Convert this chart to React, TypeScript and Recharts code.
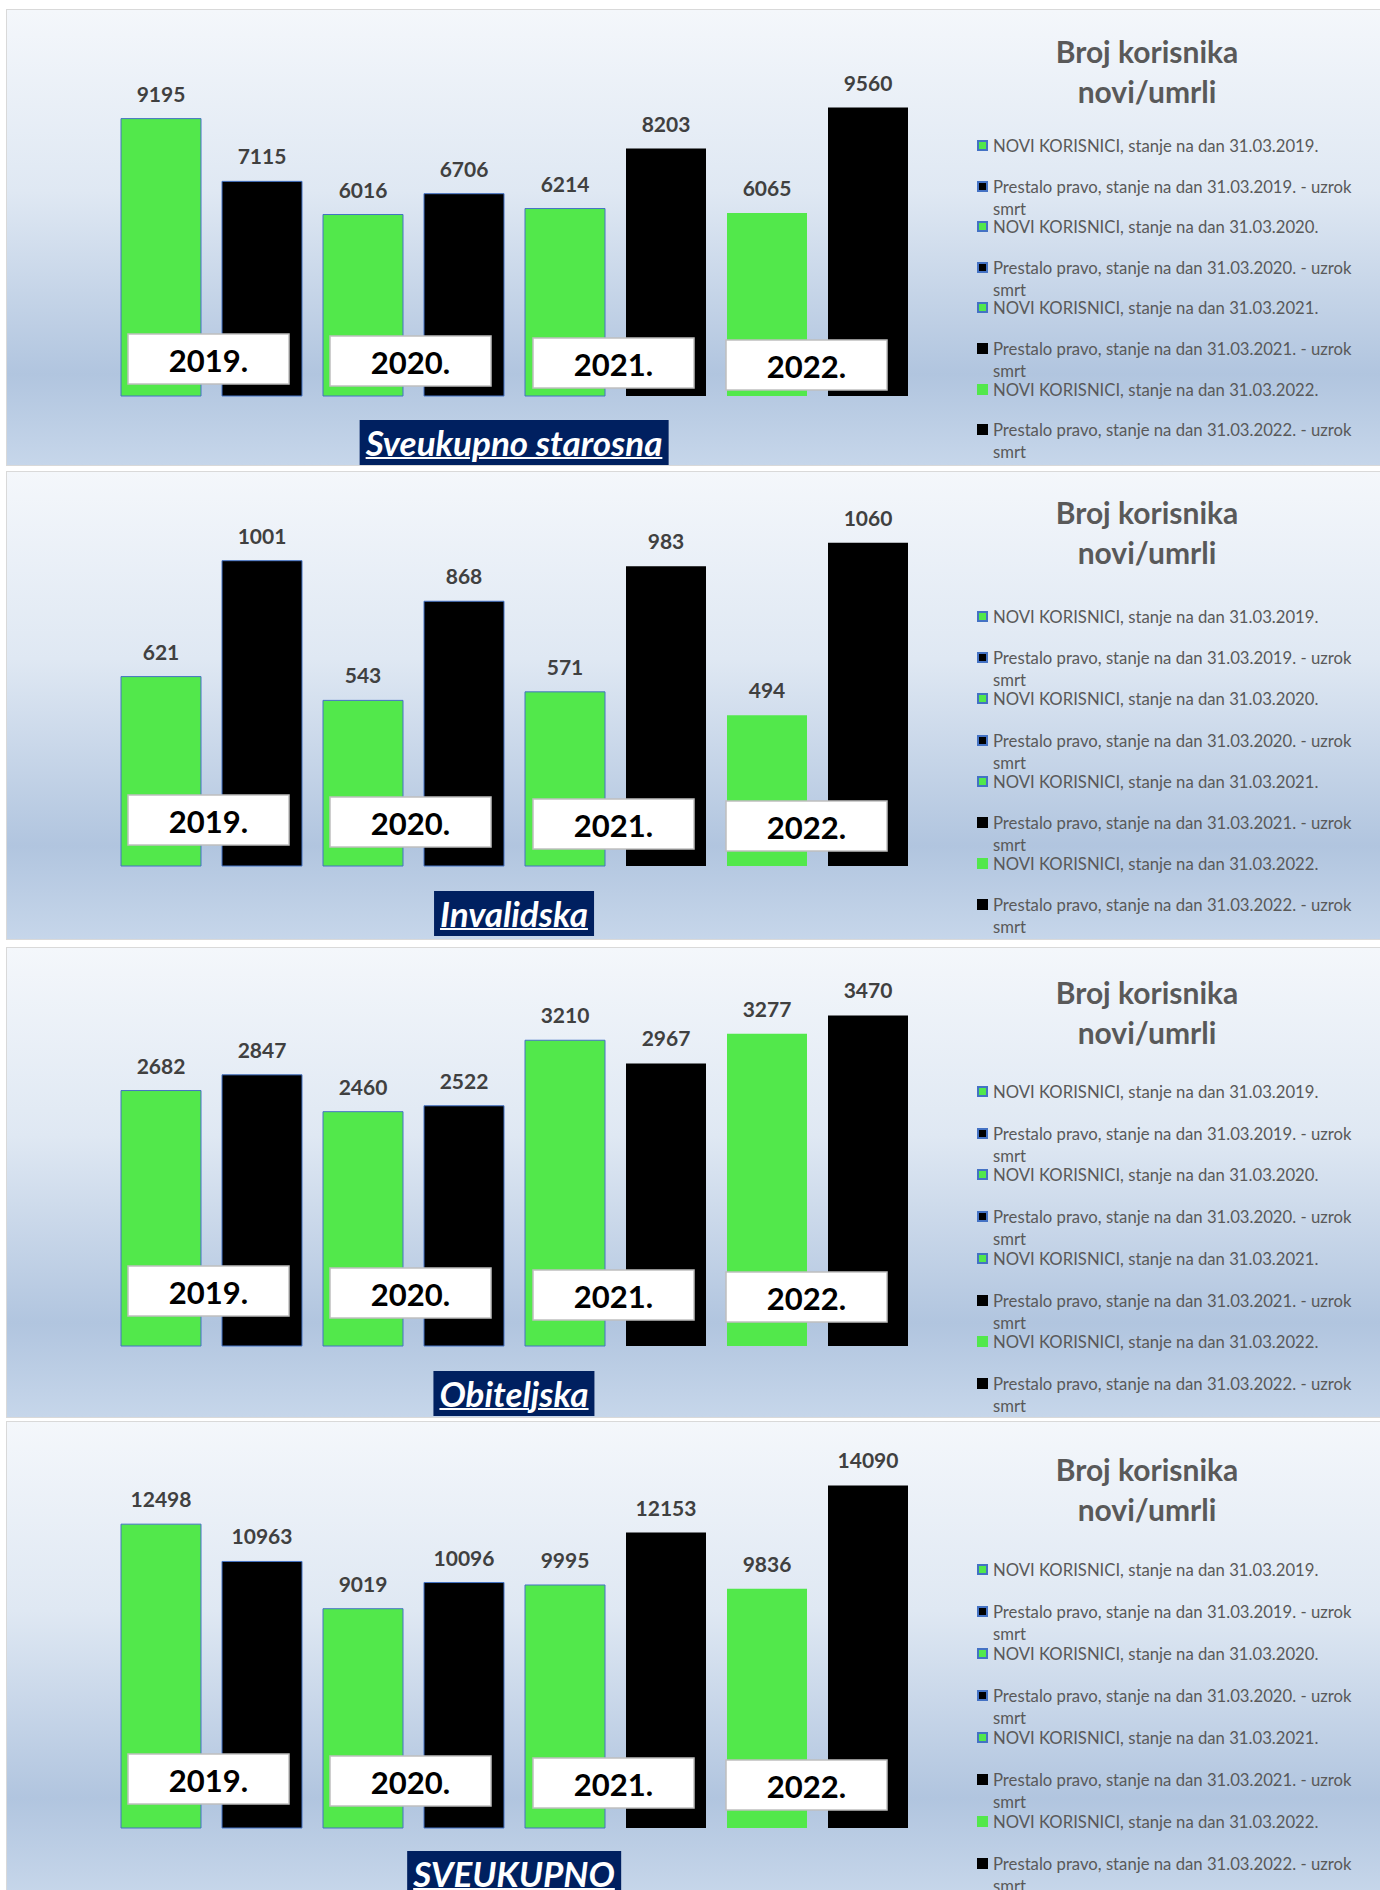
import React from 'react';
import { BarChart, Bar, XAxis, YAxis, LabelList } from 'recharts';

const seriesKeys = ['n2019', 'p2019', 'n2020', 'p2020', 'n2021', 'p2021', 'n2022', 'p2022'];
const seriesNames = [
  'NOVI KORISNICI, stanje na dan 31.03.2019.',
  'Prestalo pravo, stanje na dan 31.03.2019. - uzrok smrt',
  'NOVI KORISNICI, stanje na dan 31.03.2020.',
  'Prestalo pravo, stanje na dan 31.03.2020. - uzrok smrt',
  'NOVI KORISNICI, stanje na dan 31.03.2021.',
  'Prestalo pravo, stanje na dan 31.03.2021. - uzrok smrt',
  'NOVI KORISNICI, stanje na dan 31.03.2022.',
  'Prestalo pravo, stanje na dan 31.03.2022. - uzrok smrt',
];
const years = ['2019.', '2020.', '2021.', '2022.'];

const starosnaValues = [9195, 7115, 6016, 6706, 6214, 8203, 6065, 9560];
const invalidskaValues = [621, 1001, 543, 868, 571, 983, 494, 1060];
const obiteljskaValues = [2682, 2847, 2460, 2522, 3210, 2967, 3277, 3470];
const sveukupnoValues = [12498, 10963, 9019, 10096, 9995, 12153, 9836, 14090];

const panelTitles = ['Sveukupno starosna', 'Invalidska', 'Obiteljska', 'SVEUKUPNO'];
const panelValues = [starosnaValues, invalidskaValues, obiteljskaValues, sveukupnoValues];
const yMaxes = [12000, 1200, 4000, 16000];

const GREEN = '#52E84B';
const BLACK = '#000000';
const OUTLINE = '#4472C4';
const seriesFill = [GREEN, BLACK, GREEN, BLACK, GREEN, BLACK, GREEN, BLACK];
const seriesStroke = [OUTLINE, OUTLINE, OUTLINE, OUTLINE, OUTLINE, 'none', 'none', 'none'];

const FONT = "Lato, 'Open Sans', sans-serif";

// layout, page pixels
const layout = [
  { top: 9, height: 457, plotTop: 24, baseline: 386, titleTop: 410, legendTitle: 21, itemTop: 136, pitch: 40.6, boxRise: 62 },
  { top: 471, height: 469, plotTop: 28, baseline: 394, titleTop: 419, legendTitle: 20, itemTop: 145, pitch: 41.2, boxRise: 71 },
  { top: 947, height: 471, plotTop: 17, baseline: 398, titleTop: 423, legendTitle: 24, itemTop: 144, pitch: 41.7, boxRise: 80 },
  { top: 1421, height: 472, plotTop: 17, baseline: 406, titleTop: 429, legendTitle: 27, itemTop: 148, pitch: 42, boxRise: 74 },
];
const boxDx = [-94, -94, -93, -102];

const makeYearBox = (k: number, rise: number) => (props: any) => {
  const vb = props.viewBox ?? props;
  const base = vb.y + vb.height;
  const left = vb.x + boxDx[k];
  const top = base - rise + k * 2;
  return (
    <g>
      <rect x={left} y={top} width={161} height={50} fill="#FFFFFF" stroke="#BFBFBF" strokeWidth={1.5} />
      <text x={left + 80.5} y={top + 26} textAnchor="middle" dominantBaseline="central"
        fontSize={31} fontWeight={700} fontFamily={FONT} fill="#000000">
        {years[k]}
      </text>
    </g>
  );
};

const Panel = ({ idx }: { idx: number }) => {
  const L = layout[idx];
  const values = panelValues[idx];
  const row: any = { name: panelTitles[idx] };
  seriesKeys.forEach((k, i) => { row[k] = values[i]; });
  const data = [row];
  const h = L.height - 2;

  return (
    <div style={{
      position: 'absolute', left: 6, top: L.top, width: 1390, height: L.height,
      boxSizing: 'border-box', border: '1px solid #D9D9D9',
      background: 'linear-gradient(to bottom, #F4F7FB 0%, #DFE8F3 40%, #B1C5DF 80%, #C6D6EA 100%)',
    }}>
      <BarChart width={1373} height={h} data={data} barSize={80} barGap={21}
        margin={{ top: L.plotTop, right: 383, bottom: h - L.baseline, left: 25 }}>
        <XAxis dataKey="name" tick={false} tickLine={false} height={0}
          axisLine={{ stroke: '#D9D9D9', strokeWidth: 2 }} />
        <YAxis hide domain={[0, yMaxes[idx]]} />
        {seriesKeys.map((k, i) => (
          <Bar key={k} dataKey={k} name={seriesNames[i]} fill={seriesFill[i]}
            stroke={seriesStroke[i]} strokeWidth={1} isAnimationActive={false}>
            <LabelList dataKey={k} position="top" offset={17} fill="#404040"
              fontSize={21} fontWeight={700} fontFamily={FONT} />
            {i % 2 === 1 && (
              <LabelList dataKey={k} content={makeYearBox((i - 1) / 2, L.boxRise)} />
            )}
          </Bar>
        ))}
      </BarChart>

      <div style={{
        position: 'absolute', left: 507, top: L.titleTop, transform: 'translateX(-50%)',
        background: '#002060', color: '#FFFFFF', fontFamily: FONT, fontWeight: 700,
        fontStyle: 'italic', fontSize: 35, lineHeight: '45px', padding: '0 6px',
        textDecoration: 'underline', textDecorationThickness: 2, whiteSpace: 'nowrap',
      }}>
        {panelTitles[idx]}
      </div>

      <div style={{
        position: 'absolute', left: 1020, width: 240, top: L.legendTitle, textAlign: 'center',
        fontFamily: FONT, fontWeight: 700, fontSize: 30, lineHeight: '40px', color: '#595959',
      }}>
        Broj korisnika<br />novi/umrli
      </div>

      {seriesNames.map((n, i) => {
        const cy = L.itemTop + i * L.pitch;
        return (
          <React.Fragment key={n}>
            <div style={{
              position: 'absolute', left: 970, top: cy - 6, width: 11, height: 11,
              boxSizing: 'border-box', background: seriesFill[i],
              border: seriesStroke[i] === 'none' ? 'none' : `2px solid ${OUTLINE}`,
            }} />
            <div style={{
              position: 'absolute', left: 986, top: cy - 11, width: 375,
              fontFamily: FONT, fontSize: 16.7, lineHeight: '22px', color: '#595959',
            }}>
              {n}
            </div>
          </React.Fragment>
        );
      })}
    </div>
  );
};

export default function App() {
  return (
    <div style={{
      position: 'absolute', left: 0, top: 0, width: 1380, height: 1890,
      overflow: 'hidden', background: '#FFFFFF',
    }}>
      {layout.map((_, i) => <Panel key={i} idx={i} />)}
    </div>
  );
}
